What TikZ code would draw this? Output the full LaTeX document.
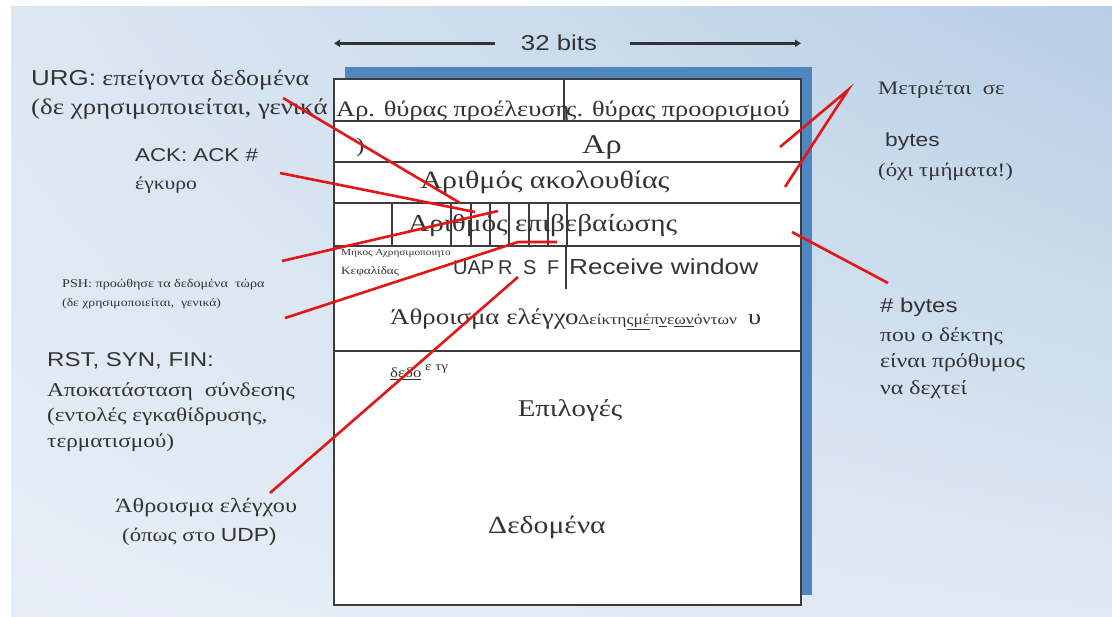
\documentclass[tikz,border=0pt]{standalone}
\usepackage{fontspec}
\setmainfont{Liberation Serif}[FakeStretch=1.2]
\setsansfont{Liberation Sans}[FakeStretch=1.2]
\newfontfamily\flagsans{Liberation Sans}
\usetikzlibrary{arrows.meta,shadings}
\definecolor{panelA}{HTML}{DCE7F2}
\definecolor{panelB}{HTML}{B7CEE5}
\definecolor{panelC}{HTML}{E7EEF6}
\definecolor{panelD}{HTML}{DFE9F3}
\definecolor{shadowblue}{HTML}{4F86BF}
\definecolor{frame}{HTML}{3C3C3C}
\definecolor{ink}{HTML}{333333}
\definecolor{callout}{HTML}{E31515}
\newcommand{\fs}[1]{\fontsize{#1}{#1}\selectfont}
\begin{document}
\begin{tikzpicture}[x=1pt,y=-1pt,
  lbl/.style={inner sep=0pt,anchor=base west,text=ink},
  ctr/.style={inner sep=0pt,anchor=base,text=ink},
  callline/.style={draw=callout,line width=2.6pt},
  rowline/.style={draw=frame,line width=2pt},
  bitsarrow/.style={draw=ink,line width=2.6pt,-{Triangle[length=6pt,width=7pt]}}]
\useasboundingbox (0,0) rectangle (1112,617);
\fill[white] (0,0) rectangle (1112,617);
% background panel
\shade[upper left=panelA,upper right=panelB,lower left=panelC,lower right=panelD]
  (11,7) rectangle (1112,617);
% segment drawing with its shadow
\fill[shadowblue] (345,67) rectangle (812,595);
\fill[white] (334,79) rectangle (801,605);
\foreach \yy in {121,162,203,246,351} \draw[rowline] (334,\yy) -- (801,\yy);
\draw[rowline] (564,79) -- (564,121);
\foreach \xx in {392,451,471,490,509,529,548,567} \draw[rowline] (\xx,203) -- (\xx,246);
\draw[frame,line width=2.6pt] (566,246) -- (566,289);
\draw[frame,line width=2.8pt] (334,79) rectangle (801,605);

% 32 bits
\node[inner sep=0pt,text=ink,anchor=base] (bits) at (559,51) {\sffamily\fs{21.5}32 bits};
\coordinate (bitsL) at (334,47);
\coordinate (bitsR) at (801,47);
\draw[bitsarrow] ([xshift=-26pt]bits.west) -- (bits.west -| bitsL);
\draw[bitsarrow] ([xshift=33pt]bits.east) -- (bits.east -| bitsR);

% fields
\node[lbl] (srcport) at (336,117) {\fs{22}Αρ. θύρας προέλευση};
\node[lbl] (dstport) at (566,117) {\fs{22}ς. θύρας προορισμού};
\node[lbl] (paren) at (356,153) {\fs{21})};
\node[ctr] (seqpart) at (602,154) {\fs{27}Αρ};
\node[ctr] (seqnum) at (545,189) {\fs{25}Αριθμός ακολουθίας};
\node[lbl] (acknum) at (408,232) {\fs{24.4}Αριθμός επιβεβαίωσης};
\node[lbl] (hlen1) at (341,256) {\fs{9.4}Μηκος Αχρησιμοποιητο};
\node[lbl] (hlen2) at (341,275) {\fs{11}Κεφαλίδας};
\node[lbl] (fU) at (453,275) {\flagsans\fs{20}UAP};
\node[lbl] (fR) at (498,275) {\flagsans\fs{20}R};
\node[lbl] (fS) at (523,275) {\flagsans\fs{20}S};
\node[lbl] (fF) at (547,275) {\flagsans\fs{20}F};
\node[lbl] (rwnd) at (569,275) {\sffamily\fs{21.8}Receive window};
\node[lbl] (cksum) at (390,325) {\fs{22.4}Άθροισμα ελέγχο};
\node[lbl] (urgptr) at (578,325) {\fs{14.6}Δείκτη\underline{ςμέ}π\underline{ν}ε\underline{ων}όντων};
\node[lbl] (upsilon) at (748,325) {\fs{22}υ};
\node[lbl] (dedo) at (390,378) {\fs{14}\underline{δεδο}};
\node[lbl] (etg) at (425,371) {\fs{12.5}ε τγ};
\node[ctr] (options) at (570,417) {\fs{24}Επιλογές};
\node[ctr] (data) at (547,533) {\fs{24.7}Δεδομένα};

% left notes
\node[lbl] (urg1) at (31,86) {\fs{21.6}{\sffamily URG:} επείγοντα δεδομένα};
\node[lbl] (urg2) at (31,115) {\fs{22.4}(δε χρησιμοποιείται, γενικά};
\node[lbl] (ack1) at (135,162) {\sffamily\fs{18.6}ACK: ACK \#};
\node[lbl] (ack2) at (135,190) {\fs{18}έγκυρο};
\node[lbl] (psh1) at (62,288) {\fs{11.8}PSH: προώθησε τα δεδομένα\ \ τώρα};
\node[lbl] (psh2) at (62,307) {\fs{11.4}(δε χρησιμοποιείται,\ \ γενικά)};
\node[lbl] (rst1) at (47,367) {\sffamily\fs{20}RST, SYN, FIN:};
\node[lbl] (rst2) at (47,397) {\fs{19.6}Αποκατάσταση\ \ σύνδεσης};
\node[lbl] (rst3) at (47,422) {\fs{19.4}(εντολές εγκαθίδρυσης,};
\node[lbl] (rst4) at (47,448) {\fs{19.4}τερματισμού)};
\node[lbl] (chk1) at (115,513) {\fs{20.2}Άθροισμα ελέγχου};
\node[lbl] (chk2) at (122,542) {\fs{19}(όπως στο {\sffamily UDP)}};

% right notes
\node[lbl] (cnt1) at (878,95) {\fs{19}Μετριέται\ \ σε};
\node[lbl] (cnt2) at (885,147) {\sffamily\fs{19}bytes};
\node[lbl] (cnt3) at (878,177) {\fs{19}(όχι τμήματα!)};
\node[lbl] (win1) at (880,313) {\sffamily\fs{20}\# bytes};
\node[lbl] (win2) at (880,342) {\fs{19.6}που ο δέκτης};
\node[lbl] (win3) at (880,368) {\fs{19.8}είναι πρόθυμος};
\node[lbl] (win4) at (880,395) {\fs{19.8}να δεχτεί};

% callout lines
\coordinate (urgS) at (283,98);   \coordinate (urgE) at (460,203);
\coordinate (ackS) at (280,173);  \coordinate (ackE) at (475,212);
\coordinate (pshS) at (282,261);  \coordinate (pshE) at (498,211);
\coordinate (rstS) at (285,318);  \coordinate (rstK) at (518,242); \coordinate (rstE) at (557,242);
\coordinate (chkS) at (270,493);  \coordinate (chkE) at (518,277);
\coordinate (cntS) at (848,90);   \coordinate (cntA) at (780,147); \coordinate (cntB) at (785,187);
\coordinate (winS) at (888,283);  \coordinate (winE) at (792,232);
\draw[callline] (urgS) -- (urgE);
\draw[callline] (ackS) -- (ackE);
\draw[callline] (pshS) -- (pshE);
\draw[callline] (rstS) -- (rstK) -- (rstE);
\draw[callline] (chkS) -- (chkE);
\draw[callline] (cntA) -- (cntS) -- (cntB);
\draw[callline] (winS) -- (winE);
\end{tikzpicture}
\end{document}
